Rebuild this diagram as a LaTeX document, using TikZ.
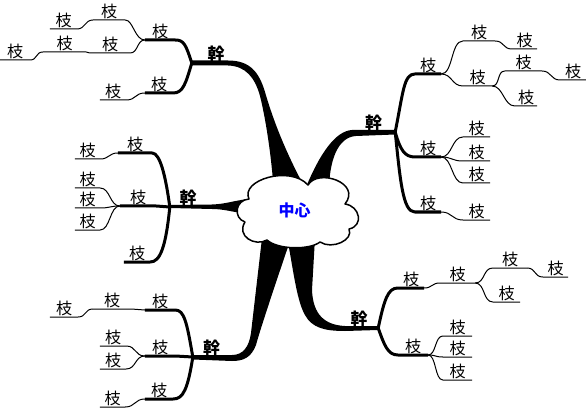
\documentclass[tikz,border=0pt]{standalone}
\usepackage{fontspec}
\newfontfamily\cjk{Noto Sans CJK JP}
\tikzset{
  lf/.style={font=\cjk\fontsize{16}{16}\selectfont, anchor=south, inner xsep=0pt, inner ysep=1pt},
  tk/.style={font=\cjk\bfseries\fontsize{17}{17}\selectfont, anchor=south, inner xsep=0pt, inner ysep=1pt},
  br1/.style={line width=3pt, line join=round},
  br2/.style={line width=1pt, line join=round},
  trunkfill/.style={fill=black},
  cloudline/.style={draw=black, line width=1.5pt, fill=white, line join=round},
}
\begin{document}
\begin{tikzpicture}[x=1pt,y=-1pt]
\useasboundingbox (0,0) rectangle (586,414);

% ---------- trunk labels ----------
\node[tk, minimum width=48] (k1) at (216,63) {幹};
\node[tk, minimum width=43] (k2) at (373.5,132) {幹};
\node[tk, minimum width=36] (k3) at (188,207) {幹};
\node[tk, minimum width=37] (k4) at (211.5,357) {幹};
\node[tk, minimum width=38] (k5) at (359,328) {幹};

% ---------- trunk shapes ----------
\fill[trunkfill] (192,60.5) -- (228,60.5) .. controls (250,60.5) and (259,72) .. (265,92)
  .. controls (276,130) and (292,165) .. (309,195) -- (274,195)
  .. controls (272,160) and (266,120) .. (260,96) .. controls (255,78) and (246,66) .. (228,65.5) -- (192,65.5) -- cycle;
\fill[trunkfill] (395,130) -- (352,130) .. controls (336,131) and (320,152) .. (304,192) -- (329,192)
  .. controls (329,160) and (338,137) .. (356,136) -- (395,134.5) -- cycle;
\fill[trunkfill] (170,205) -- (212,204.5) .. controls (226,204) and (232,201) .. (248,199) -- (248,214)
  .. controls (232,212) and (224,209) .. (212,209) -- (170,208) -- cycle;
\fill[trunkfill] (193,355) -- (232,355) .. controls (243,355) and (249,347) .. (251,333) -- (262,238) -- (291,238)
  .. controls (275,285) and (260,330) .. (256,345) .. controls (251,358) and (243,361) .. (232,361) -- (193,359.5) -- cycle;
\fill[trunkfill] (378,326) -- (345,326) .. controls (325,325) and (313,315) .. (312,290) -- (315,238) -- (287,238)
  .. controls (292,260) and (296,300) .. (305,315) .. controls (312,328) and (325,331) .. (345,331) -- (378,330) -- cycle;

% ---------- centre cloud ----------
\path[cloudline] (308,185) .. controls (318,168) and (362,183) .. (345,204)
  .. controls (360,206) and (364,226) .. (349,229)
  .. controls (354,240) and (332,250) .. (320,242)
  .. controls (310,250) and (278,250) .. (267,240)
  .. controls (255,247) and (236,236) .. (245,222)
  .. controls (233,218) and (235,200) .. (249,199)
  .. controls (240,180) and (290,165) .. cycle;
\node[font=\cjk\bfseries\fontsize{16}{16}\selectfont, text=blue, inner sep=0pt] (cl) at (294.5,210.5) {中心};

% ---------- upper-left tree ----------
\node[lf, minimum width=30] (a1) at (160,40) {枝};
\node[lf, minimum width=32] (a11) at (109,20) {枝};
\node[lf, minimum width=27] (a111) at (63.5,29) {枝};
\node[lf, minimum width=40] (a12) at (110,53) {枝};
\node[lf, minimum width=43] (a121) at (64.5,52) {枝};
\node[lf, minimum width=30] (a1211) at (15,60) {枝};
\node[lf, minimum width=28] (b1) at (159,93) {枝};
\node[lf, minimum width=26] (b11) at (113,100) {枝};

\draw[br1] (k1.south west) .. controls +(-6,-18) and +(9,0) .. (a1.south east) -- (a1.south west);
\draw[br2] (a1.south west) .. controls +(-10,0) and +(8,0) .. (a11.south east) -- (a11.south west);
\draw[br2] (a11.south west) .. controls +(-8,0) and +(8,0) .. (a111.south east) -- (a111.south west);
\draw[br2] (a1.south west) .. controls +(-8,0) and +(8,0) .. (a12.south east) -- (a12.south west);
\draw[br2] (a12.south west) -- (a121.south east) -- (a121.south west);
\draw[br2] (a121.south west) .. controls +(-7,0) and +(7,0) .. (a1211.south east) -- (a1211.south west);
\draw[br1] (k1.south west) .. controls +(-6,20) and +(10,0) .. (b1.south east) -- (b1.south west);
\draw[br2] (b1.south west) .. controls +(-10,0) and +(10,0) .. (b11.south east) -- (b11.south west);

% ---------- upper-right tree ----------
\node[lf, minimum width=26] (c1) at (428,74) {枝};
\node[lf, minimum width=32] (c11) at (479,41) {枝};
\node[lf, minimum width=25] (c111) at (524.5,49) {枝};
\node[lf, minimum width=29] (c12) at (477.5,86) {枝};
\node[lf, minimum width=37] (c121) at (523.5,71) {枝};
\node[lf, minimum width=26] (c1211) at (573,80) {枝};
\node[lf, minimum width=22] (c122) at (526,106) {枝};
\node[lf, minimum width=26] (c2) at (428,157) {枝};
\node[lf, minimum width=27] (c21) at (476.5,137) {枝};
\node[lf, minimum width=27] (c22) at (476.5,161) {枝};
\node[lf, minimum width=27] (c23) at (476.5,183) {枝};
\node[lf, minimum width=26] (c3) at (428,212) {枝};
\node[lf, minimum width=27] (c31) at (476.5,220) {枝};

\draw[br1] (k2.south east) .. controls +(8,-40) and +(-11,0) .. (c1.south west) -- (c1.south east);
\draw[br2] (c1.south east) .. controls +(12,0) and +(-12,0) .. (c11.south west) -- (c11.south east);
\draw[br2] (c11.south east) .. controls +(9,0) and +(-9,0) .. (c111.south west) -- (c111.south east);
\draw[br2] (c1.south east) .. controls +(11,0) and +(-11,0) .. (c12.south west) -- (c12.south east);
\draw[br2] (c12.south east) .. controls +(8,0) and +(-8,0) .. (c121.south west) -- (c121.south east);
\draw[br2] (c121.south east) .. controls +(9,0) and +(-9,0) .. (c1211.south west) -- (c1211.south east);
\draw[br2] (c12.south east) .. controls +(11,0) and +(-11,0) .. (c122.south west) -- (c122.south east);
\draw[br1] (k2.south east) .. controls +(5,18) and +(-10,0) .. (c2.south west) -- (c2.south east);
\draw[br2] (c2.south east) .. controls +(11,0) and +(-11,0) .. (c21.south west) -- (c21.south east);
\draw[br2] (c2.south east) .. controls +(11,0) and +(-11,0) .. (c22.south west) -- (c22.south east);
\draw[br2] (c2.south east) .. controls +(11,0) and +(-11,0) .. (c23.south west) -- (c23.south east);
\draw[br1] (k2.south east) .. controls +(5,48) and +(-12,0) .. (c3.south west) -- (c3.south east);
\draw[br2] (c3.south east) .. controls +(11,0) and +(-11,0) .. (c31.south west) -- (c31.south east);

% ---------- left tree ----------
\node[lf, minimum width=34] (d1) at (135,153) {枝};
\node[lf, minimum width=25] (d11) at (87.5,159) {枝};
\node[lf, minimum width=36] (d2) at (138,206) {枝};
\node[lf, minimum width=25] (d21) at (87.5,188) {枝};
\node[lf, minimum width=25] (d22) at (87.5,208) {枝};
\node[lf, minimum width=25] (d23) at (87.5,230) {枝};
\node[lf, minimum width=26] (d3) at (137,262) {枝};

\draw[br1] (k3.south west) .. controls +(-4,-30) and +(8,0) .. (d1.south east) -- (d1.south west);
\draw[br2] (d1.south west) .. controls +(-9,0) and +(9,0) .. (d11.south east) -- (d11.south west);
\draw[br1] (k3.south west) -- (d2.south east) -- (d2.south west);
\draw[br2] (d2.south west) .. controls +(-10,0) and +(10,0) .. (d21.south east) -- (d21.south west);
\draw[br2] (d2.south west) .. controls +(-10,0) and +(10,0) .. (d22.south east) -- (d22.south west);
\draw[br2] (d2.south west) .. controls +(-10,0) and +(10,0) .. (d23.south east) -- (d23.south west);
\draw[br1] (k3.south west) .. controls +(-4,40) and +(10,0) .. (d3.south east) -- (d3.south west);

% ---------- lower-left tree ----------
\node[lf, minimum width=30] (e1) at (160,310) {枝};
\node[lf, minimum width=38] (e11) at (112,309) {枝};
\node[lf, minimum width=28] (e111) at (64,317) {枝};
\node[lf, minimum width=30] (e2) at (160,356) {枝};
\node[lf, minimum width=26] (e21) at (113,346) {枝};
\node[lf, minimum width=26] (e22) at (113,369) {枝};
\node[lf, minimum width=28] (e3) at (159,399) {枝};
\node[lf, minimum width=25] (e31) at (112.5,407) {枝};

\draw[br1] (k4.south west) .. controls +(-6,-35) and +(9,0) .. (e1.south east) -- (e1.south west);
\draw[br2] (e1.south west) -- (e11.south east) -- (e11.south west);
\draw[br2] (e11.south west) .. controls +(-8,0) and +(8,0) .. (e111.south east) -- (e111.south west);
\draw[br1] (k4.south west) -- (e2.south east) -- (e2.south west);
\draw[br2] (e2.south west) .. controls +(-10,0) and +(10,0) .. (e21.south east) -- (e21.south west);
\draw[br2] (e2.south west) .. controls +(-10,0) and +(10,0) .. (e22.south east) -- (e22.south west);
\draw[br1] (k4.south west) .. controls +(-5,32) and +(10,0) .. (e3.south east) -- (e3.south west);
\draw[br2] (e3.south west) .. controls +(-10,0) and +(10,0) .. (e31.south east) -- (e31.south west);

% ---------- lower-right tree ----------
\node[lf, minimum width=26] (f1) at (411,288) {枝};
\node[lf, minimum width=35] (f11) at (457.5,283) {枝};
\node[lf, minimum width=34] (f111) at (510,268) {枝};
\node[lf, minimum width=25] (f1111) at (555.5,277) {枝};
\node[lf, minimum width=27] (f112) at (506.5,302) {枝};
\node[lf, minimum width=30] (f2) at (413,355) {枝};
\node[lf, minimum width=29] (f21) at (457.5,336) {枝};
\node[lf, minimum width=29] (f22) at (457.5,357) {枝};
\node[lf, minimum width=29] (f23) at (457.5,380) {枝};

\draw[br1] (k5.south east) .. controls +(6,-28) and +(-10,0) .. (f1.south west) -- (f1.south east);
\draw[br2] (f1.south east) .. controls +(8,0) and +(-8,0) .. (f11.south west) -- (f11.south east);
\draw[br2] (f11.south east) .. controls +(10,0) and +(-10,0) .. (f111.south west) -- (f111.south east);
\draw[br2] (f111.south east) .. controls +(9,0) and +(-9,0) .. (f1111.south west) -- (f1111.south east);
\draw[br2] (f11.south east) .. controls +(10,0) and +(-10,0) .. (f112.south west) -- (f112.south east);
\draw[br1] (k5.south east) .. controls +(6,17) and +(-10,0) .. (f2.south west) -- (f2.south east);
\draw[br2] (f2.south east) .. controls +(8,0) and +(-8,0) .. (f21.south west) -- (f21.south east);
\draw[br2] (f2.south east) .. controls +(8,0) and +(-8,0) .. (f22.south west) -- (f22.south east);
\draw[br2] (f2.south east) .. controls +(8,0) and +(-8,0) .. (f23.south west) -- (f23.south east);
\end{tikzpicture}
\end{document}
